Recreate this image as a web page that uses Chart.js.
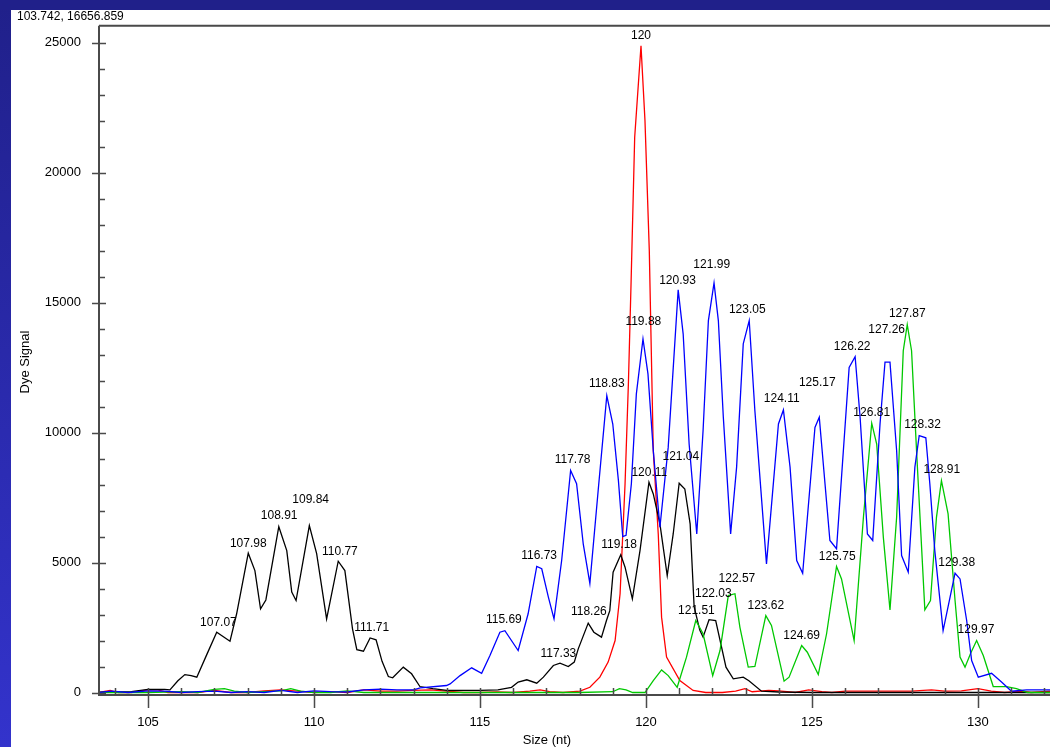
<!DOCTYPE html>
<html>
<head>
<meta charset="utf-8">
<script src="https://cdn.jsdelivr.net/npm/chart.js@4/dist/chart.umd.min.js"></script>
<style>
html, body { margin: 0; padding: 0; overflow: hidden; background: #fff; }
#wrap { position: absolute; left: 0; top: 0; width: 1050px; height: 747px; }
</style>
</head>
<body>
<div id="wrap"><canvas id="trace" width="1050" height="747"></canvas></div>
<script>
// blue trace
const blueSize = [103.52, 103.9, 104.4, 105.0, 105.5, 106.0, 106.5, 107.0, 107.5, 108.0, 108.5, 109.0, 109.5, 110.0, 110.5, 111.0, 111.5, 112.0, 112.5, 113.0, 113.2, 113.99, 114.1, 114.4, 114.75, 115.05, 115.3, 115.6, 115.75, 116.15, 116.45, 116.71, 116.86, 117.06, 117.23, 117.46, 117.73, 117.91, 118.11, 118.31, 118.56, 118.82, 119.0, 119.17, 119.3, 119.4, 119.56, 119.71, 119.91, 120.06, 120.22, 120.42, 120.67, 120.97, 121.12, 121.3, 121.53, 121.72, 121.88, 122.05, 122.18, 122.33, 122.55, 122.73, 122.93, 123.11, 123.28, 123.63, 123.99, 124.14, 124.34, 124.54, 124.72, 125.09, 125.22, 125.54, 125.74, 126.12, 126.3, 126.45, 126.67, 126.83, 127.05, 127.2, 127.35, 127.55, 127.7, 127.9, 128.1, 128.23, 128.43, 128.55, 128.7, 128.95, 129.16, 129.31, 129.46, 129.66, 129.81, 130.01, 130.41, 130.71, 131.01, 131.47, 132.2];
const blueSignal = [0, 50, 0, 60, 50, 0, 30, 50, 0, 30, 0, 80, 0, 60, 30, 20, 100, 130, 100, 100, 180, 270, 330, 650, 950, 740, 1420, 2320, 2380, 1615, 3030, 4850, 4760, 3670, 2830, 5080, 8540, 8030, 5720, 4200, 7770, 11420, 10330, 8150, 6000, 6050, 8030, 11490, 13600, 12260, 9310, 6360, 9440, 15490, 13800, 9560, 6100, 10080, 14310, 15760, 14310, 10590, 6100, 8670, 13410, 14310, 10850, 4950, 10330, 10870, 8670, 5080, 4590, 10200, 10590, 5850, 5530, 12510, 12920, 10590, 6100, 5850, 10330, 12710, 12710, 9310, 5270, 4630, 8670, 9880, 9800, 8030, 5460, 2380, 3670, 4590, 4370, 2770, 1230, 590, 740, 400, 50, 100, 100];

// green trace
const greenSize = [103.52, 104, 105, 106, 106.5, 107, 107.3, 107.6, 108, 108.5, 109, 109.3, 109.6, 110, 110.5, 111, 111.5, 112, 113, 114, 115, 116, 117, 118, 119, 119.2, 119.4, 119.6, 119.97, 120.22, 120.47, 120.67, 120.94, 121.22, 121.5, 121.72, 122.01, 122.23, 122.48, 122.68, 122.83, 123.08, 123.28, 123.61, 123.78, 124.16, 124.31, 124.69, 124.86, 125.19, 125.44, 125.74, 125.89, 126.27, 126.55, 126.8, 126.95, 127.15, 127.35, 127.55, 127.75, 127.87, 128.0, 128.15, 128.4, 128.57, 128.75, 128.9, 129.1, 129.31, 129.46, 129.61, 129.78, 129.96, 130.16, 130.46, 130.86, 131.16, 131.5, 132.2];
const greenSignal = [0, 0, 0, 30, 0, 120, 150, 50, 0, 30, 60, 150, 50, 0, 0, 60, 0, 0, 0, 0, 0, 0, 0, 0, 30, 150, 100, 0, 0, 460, 870, 650, 200, 1360, 2770, 2260, 650, 1615, 3730, 3800, 2510, 975, 1000, 2960, 2580, 435, 590, 1810, 1550, 690, 2260, 4850, 4370, 2000, 6740, 10360, 9560, 5970, 3180, 6740, 13150, 14150, 13150, 9310, 3180, 3540, 6740, 8150, 6870, 3540, 1360, 975, 1510, 2000, 1420, 230, 230, 150, 0, 0];

// black trace
const blackSize = [103.52, 104.0, 104.5, 105.0, 105.5, 105.66, 105.9, 106.11, 106.3, 106.47, 106.75, 107.07, 107.47, 107.67, 108.02, 108.22, 108.39, 108.55, 108.94, 109.18, 109.33, 109.46, 109.86, 110.08, 110.38, 110.73, 110.93, 111.16, 111.29, 111.49, 111.69, 111.87, 112.05, 112.24, 112.37, 112.69, 112.94, 113.19, 113.58, 114.0, 114.5, 115.0, 115.54, 115.95, 116.15, 116.41, 116.71, 116.91, 117.21, 117.41, 117.66, 117.84, 117.96, 118.26, 118.43, 118.66, 118.81, 118.91, 119.01, 119.24, 119.37, 119.59, 119.82, 120.09, 120.22, 120.42, 120.64, 120.82, 121.0, 121.17, 121.33, 121.45, 121.62, 121.72, 121.9, 122.1, 122.41, 122.63, 122.93, 123.1, 123.48, 124.0, 125.0, 132.2];
const blackSignal = [0, 20, 30, 120, 120, 100, 450, 690, 650, 590, 1400, 2320, 1975, 3030, 5360, 4690, 3220, 3560, 6380, 5460, 3860, 3540, 6420, 5340, 2830, 5050, 4690, 2450, 1650, 1590, 2100, 2025, 1200, 615, 565, 975, 720, 230, 150, 80, 80, 80, 100, 200, 400, 490, 360, 590, 1040, 1130, 1000, 1170, 1680, 2670, 2320, 2130, 2770, 3150, 4630, 5300, 4820, 3600, 5460, 8090, 7640, 6490, 4500, 6100, 8050, 7830, 6490, 3300, 2400, 2130, 2800, 2770, 975, 525, 590, 450, 50, 20, 0, 0];

// red trace
const redSize = [103.52, 103.86, 104.1, 104.5, 105, 105.3, 105.6, 106.5, 107, 107.5, 108, 108.5, 109, 109.5, 110, 110.5, 111, 111.5, 112, 112.5, 113, 113.5, 114, 114.5, 115, 115.5, 116, 116.5, 116.81, 117.1, 117.5, 118.01, 118.31, 118.61, 118.86, 119.07, 119.22, 119.37, 119.47, 119.55, 119.66, 119.85, 119.97, 120.1, 120.14, 120.22, 120.37, 120.47, 120.62, 121.02, 121.42, 121.8, 122.3, 122.7, 122.98, 123.2, 123.7, 124, 124.5, 124.9, 125.3, 125.6, 126, 126.5, 127, 127.5, 128, 128.6, 129, 129.5, 130, 130.4, 130.8, 131.3, 131.6, 132.2];
const redSignal = [0, 80, 0, 0, 100, 100, 0, 0, 80, 0, 0, 60, 100, 50, 0, 30, 0, 100, 50, 50, 80, 100, 50, 0, 0, 20, 0, 50, 100, 30, 0, 50, 200, 590, 1170, 2000, 3800, 8030, 11870, 15720, 21360, 24880, 22000, 17000, 14430, 9310, 6100, 2900, 1360, 460, 80, 0, 0, 50, 150, 30, 80, 60, 0, 100, 30, 0, 50, 50, 50, 50, 50, 100, 50, 60, 150, 50, 0, 50, 0, 50];

// peak calls: text, size (nt) and signal where the label sits
const peakText = ['120', '107.07', '107.98', '108.91', '109.84', '110.77', '111.71', '115.69', '116.73', '117.33', '117.78', '118.26', '118.83', '119.18', '119.88', '120.11', '120.93', '121.04', '121.51', '121.99', '122.03', '122.57', '123.05', '123.62', '124.11', '124.69', '125.17', '125.75', '126.22', '126.81', '127.26', '127.87', '128.32', '128.91', '129.38', '129.97'];
const peakSize = [119.85, 107.12, 108.02, 108.95, 109.9, 110.78, 111.74, 115.72, 116.78, 117.36, 117.79, 118.28, 118.82, 119.19, 119.92, 120.1, 120.95, 121.05, 121.52, 121.98, 122.03, 122.74, 123.05, 123.61, 124.09, 124.69, 125.16, 125.76, 126.21, 126.8, 127.25, 127.87, 128.33, 128.91, 129.36, 129.94];
const peakSignal = [25270, 2700, 5740, 6810, 7420, 5430, 2490, 2800, 5270, 1510, 8960, 3115, 11870, 5680, 14280, 8470, 15850, 9080, 3150, 16460, 3800, 4380, 14720, 3350, 11320, 2190, 11910, 5240, 13320, 10760, 13950, 14590, 10310, 8560, 4990, 2410];

const yTicks = [0, 5000, 10000, 15000, 20000, 25000];

const FONT = '"Liberation Sans", Arial, sans-serif';

function pts(xs, ys) {
    return xs.map((x, i) => ({ x: x, y: ys[i] }));
}

// blue frame, white panel
const backdrop = {
    id: 'backdrop',
    beforeDraw(chart) {
        const ctx = chart.ctx;
        const w = chart.width, h = chart.height;
        ctx.save();
        const g = ctx.createLinearGradient(0, 0, 0, h);
        g.addColorStop(0, '#20208a');
        g.addColorStop(1, '#3333cc');
        ctx.fillStyle = g;
        ctx.fillRect(0, 0, w, h);
        ctx.fillStyle = '#20208a';
        ctx.fillRect(0, 0, w, 10);
        ctx.fillStyle = '#ffffff';
        ctx.fillRect(11, 10, w - 11, h - 10);
        ctx.restore();
    }
};

// axes, tick marks, titles and peak calls
const decor = {
    id: 'decor',
    afterDraw(chart) {
        const ctx = chart.ctx;
        const a = chart.chartArea;
        const xs = chart.scales.x, ys = chart.scales.y;
        ctx.save();
        ctx.strokeStyle = '#4a4a4a';
        ctx.lineWidth = 2;
        ctx.beginPath();
        ctx.moveTo(a.left, a.top); ctx.lineTo(a.right, a.top);
        ctx.moveTo(a.left, a.top); ctx.lineTo(a.left, a.bottom + 1);
        ctx.moveTo(a.left - 1, a.bottom); ctx.lineTo(a.right, a.bottom);
        ctx.stroke();

        ctx.lineWidth = 1.5;
        ctx.beginPath();
        for (let v = 0; v <= 25000; v += 1000) {
            const y = Math.round(ys.getPixelForValue(v)) + 0.5;
            if (v % 5000 === 0) {
                ctx.moveTo(a.left - 7, y); ctx.lineTo(a.left + 7, y);
            } else {
                ctx.moveTo(a.left, y); ctx.lineTo(a.left + 6, y);
            }
        }
        for (let s = 104; s <= 132; s++) {
            const x = Math.round(xs.getPixelForValue(s)) + 0.5;
            if (s % 5 === 0) {
                ctx.moveTo(x, a.bottom - 7); ctx.lineTo(x, a.bottom + 13);
            } else {
                ctx.moveTo(x, a.bottom - 7); ctx.lineTo(x, a.bottom);
            }
        }
        ctx.stroke();

        ctx.fillStyle = '#000';
        ctx.font = '12px ' + FONT;
        ctx.textAlign = 'left';
        ctx.textBaseline = 'middle';
        ctx.fillText('103.742, 16656.859', 17, 17);

        ctx.font = '13px ' + FONT;
        ctx.textAlign = 'center';
        ctx.fillText('Size (nt)', 547, 740);
        ctx.save();
        ctx.translate(25, 362);
        ctx.rotate(-Math.PI / 2);
        ctx.fillText('Dye Signal', 0, 0);
        ctx.restore();

        ctx.font = '12px ' + FONT;
        peakText.forEach((t, i) => {
            ctx.fillText(t, xs.getPixelForValue(peakSize[i]), ys.getPixelForValue(peakSignal[i]));
        });
        ctx.restore();
    }
};

const line = (data, color) => ({
    data: data,
    borderColor: color,
    borderWidth: 1.3,
    pointRadius: 0,
    fill: false,
    tension: 0
});

new Chart(document.getElementById('trace'), {
    type: 'line',
    data: {
        datasets: [
            line(pts(blueSize, blueSignal), '#0000ff'),
            line(pts(greenSize, greenSignal), '#00c800'),
            line(pts(blackSize, blackSignal), '#000000'),
            line(pts(redSize, redSignal), '#ff0000')
        ]
    },
    options: {
        responsive: false,
        devicePixelRatio: 1,
        animation: false,
        layout: { padding: { top: 25, left: 0, right: 0, bottom: 0 } },
        plugins: { legend: { display: false }, tooltip: { enabled: false } },
        scales: {
            x: {
                type: 'linear',
                min: 103.524,
                max: 132.17,
                grid: { display: false, drawTicks: false },
                border: { display: false },
                ticks: {
                    stepSize: 5,
                    includeBounds: false,
                    padding: 20,
                    color: '#000',
                    maxRotation: 0,
                    font: { family: FONT, size: 13 },
                    callback: v => String(v)
                },
                afterFit: s => { s.height = 52; }
            },
            y: {
                type: 'linear',
                min: -96,
                max: 25650,
                grid: { display: false, drawTicks: false },
                border: { display: false },
                afterBuildTicks: s => { s.ticks = yTicks.map(v => ({ value: v })); },
                ticks: {
                    padding: 18,
                    color: '#000',
                    font: { family: FONT, size: 13 },
                    callback: v => String(v)
                },
                afterFit: s => { s.width = 99; }
            }
        }
    },
    plugins: [backdrop, decor]
});
</script>
</body>
</html>
